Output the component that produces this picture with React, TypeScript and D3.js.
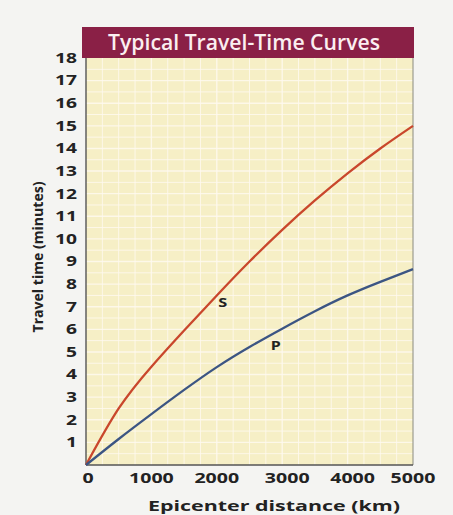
import React from "react";
import * as d3 from "d3";

const distances = [0, 500, 1000, 1500, 2000, 2500, 3000, 3500, 4000, 4500, 5000];
const sWave = [0, 2.5, 4.35, 5.95, 7.5, 9.0, 10.4, 11.7, 12.9, 14.0, 15.0];
const pWave = [0, 1.15, 2.25, 3.32, 4.33, 5.22, 6.03, 6.8, 7.5, 8.1, 8.66];
const xTicks = [0, 1000, 2000, 3000, 4000, 5000];
const yTicks = [1, 2, 3, 4, 5, 6, 7, 8, 9, 10, 11, 12, 13, 14, 15, 16, 17, 18];

const W = 453, H = 515;
const L = 86, R = 413, T = 58, B = 465;

export default function App() {
  const x = d3.scaleLinear().domain([0, 5000]).range([L, R]);
  const y = d3.scaleLinear().domain([0, 18]).range([B, T]);
  const line = d3.line<[number, number]>().x(d => x(d[0])).y(d => y(d[1])).curve(d3.curveNatural);
  const sPts = distances.map((d, i) => [d, sWave[i]] as [number, number]);
  const pPts = distances.map((d, i) => [d, pWave[i]] as [number, number]);
  const vGrid = d3.range(250, 5000, 250);
  const hGrid = d3.range(0.5, 18, 0.5);
  const font = "'Open Sans', 'DejaVu Sans', sans-serif";
  const digitW = 11.2;
  return (
    <svg width={W} height={H} style={{ position: "absolute", left: 0, top: 0, background: "#f4f4f2" }}>
      <rect x={0} y={0} width={W} height={H} fill="#f4f4f2" />
      <rect x={L} y={T} width={R - L} height={B - T} fill="#f6efc6" />
      {vGrid.map(v => (
        <line key={"v" + v} x1={x(v)} x2={x(v)} y1={T} y2={B} stroke="#fffaf0" strokeWidth={v % 1000 === 0 ? 1.4 : 1} opacity={0.85} />
      ))}
      {hGrid.map(v => (
        <line key={"h" + v} x1={L} x2={R} y1={y(v)} y2={y(v)} stroke="#fffaf0" strokeWidth={v % 1 === 0 ? 1.4 : 1} opacity={0.85} />
      ))}
      <rect x={L - 4} y={27} width={R - L + 5} height={T - 27} fill="#8a2046" />
      <text x={244} y={50} textAnchor="middle" fill="#fbeef0" fontFamily={font} fontWeight={600} fontSize={21} textLength={272} lengthAdjust="spacingAndGlyphs">
        Typical Travel-Time Curves
      </text>
      <line x1={R} x2={R} y1={T} y2={B} stroke="#8a8a80" strokeWidth={1} />
      <line x1={L} x2={L} y1={T} y2={B} stroke="#555" strokeWidth={1.4} />
      <line x1={L} x2={R} y1={B} y2={B} stroke="#555" strokeWidth={1.4} />
      <path d={line(sPts) || ""} fill="none" stroke="#c9472c" strokeWidth={2.3} />
      <path d={line(pPts) || ""} fill="none" stroke="#3c5583" strokeWidth={2.3} />
      <text x={x(2090)} y={y(7.0)} textAnchor="middle" fontFamily={font} fontWeight={700} fontSize={13} fill="#222" textLength={9} lengthAdjust="spacingAndGlyphs">S</text>
      <text x={x(2900)} y={y(5.1)} textAnchor="middle" fontFamily={font} fontWeight={700} fontSize={13} fill="#222" textLength={10} lengthAdjust="spacingAndGlyphs">P</text>
      {yTicks.map(t => (
        <text key={"yt" + t} x={77} y={y(t)} dy="0.36em" textAnchor="end" fontFamily={font} fontWeight={700} fontSize={13.5} fill="#222"
          textLength={String(t).length * (digitW - 0.2)} lengthAdjust="spacingAndGlyphs">{t}</text>
      ))}
      {xTicks.map(t => (
        <text key={"xt" + t} x={x(t) + (t === 0 ? 2 : t === 3000 || t === 4000 ? 5 : 0)} y={483} textAnchor="middle" fontFamily={font} fontWeight={700} fontSize={13.5} fill="#222"
          textLength={String(t).length * digitW} lengthAdjust="spacingAndGlyphs">{t}</text>
      ))}
      <text x={274} y={511} textAnchor="middle" fontFamily={font} fontWeight={700} fontSize={15} fill="#222" textLength={252} lengthAdjust="spacingAndGlyphs">Epicenter distance (km)</text>
      <text transform={`translate(43,257) rotate(-90)`} textAnchor="middle" fontFamily={font} fontWeight={700} fontSize={13.5} fill="#222" textLength={151} lengthAdjust="spacingAndGlyphs">Travel time (minutes)</text>
    </svg>
  );
}
